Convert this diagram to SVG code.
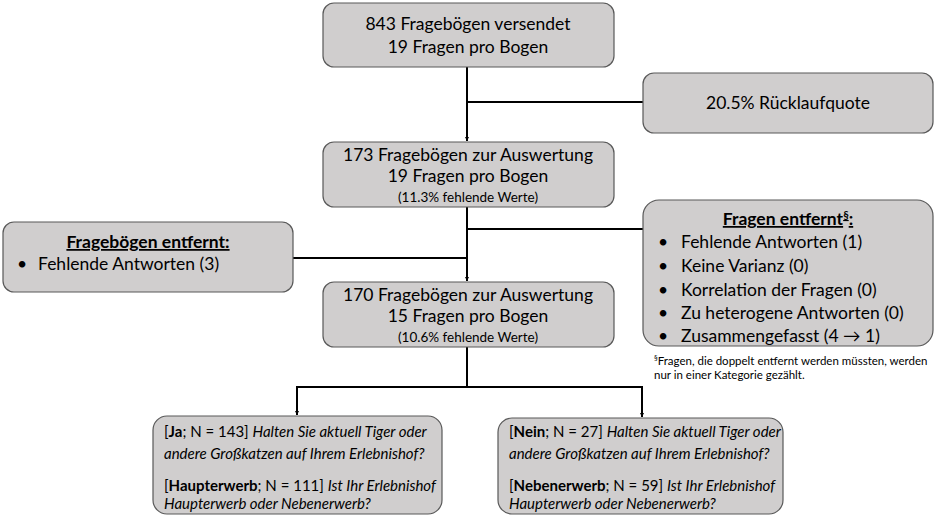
<svg xmlns="http://www.w3.org/2000/svg" width="939" height="520" viewBox="0 0 939 520">
<defs>
<style>
.box{fill:#d0cece;stroke:#595959;stroke-width:1.2}
text{font-family:Lato,"Open Sans","Liberation Sans",sans-serif;fill:#000}
.m{font-size:17.5px;text-anchor:middle}
.s{font-size:13.5px;text-anchor:middle}
.l{font-size:17.5px}
.b{font-size:15px}
.f{font-size:11.5px}
.c{fill:none;stroke:#000;stroke-width:2}
</style>
<marker id="ah" viewBox="0 0 10 10" refX="10" refY="5" markerWidth="4" markerHeight="4" orient="auto" markerUnits="userSpaceOnUse">
<path d="M0,0 L10,5 L0,10 z" fill="#000"/>
</marker>
</defs>
<g id="connectors">
<path class="c" d="M467,67 V141" marker-end="url(#ah)"/>
<path class="c" d="M467,102 H643"/>
<path class="c" d="M467,207 V281" marker-end="url(#ah)"/>
<path class="c" d="M293,258 H467"/>
<path class="c" d="M467,229 H643"/>
<path class="c" d="M467,347 V387"/>
<path class="c" d="M296,387 H643"/>
<path class="c" d="M297,386 V415" marker-end="url(#ah)"/>
<path class="c" d="M642,386 V417" marker-end="url(#ah)"/>
</g>
<g id="n1">
<rect class="box" x="323" y="3" width="291" height="64" rx="11"/>
<text class="m" x="468" y="30">843 Fragebögen versendet</text>
<text class="m" x="468" y="53">19 Fragen pro Bogen</text>
</g>
<g id="n2">
<rect class="box" x="643" y="73" width="290" height="60" rx="11"/>
<text class="m" x="788" y="109">20.5% Rücklaufquote</text>
</g>
<g id="n3">
<rect class="box" x="323" y="142" width="291" height="65" rx="11"/>
<text class="m" x="468" y="161">173 Fragebögen zur Auswertung</text>
<text class="m" x="468" y="182">19 Fragen pro Bogen</text>
<text class="s" x="468" y="202">(11.3% fehlende Werte)</text>
</g>
<g id="n4">
<rect class="box" x="3" y="222" width="290" height="70" rx="11"/>
<text class="m" x="148" y="248" font-weight="bold" text-decoration="underline">Fragebögen entfernt:</text>
<text class="l" x="17" y="270">•</text>
<text class="l" x="38" y="270">Fehlende Antworten (3)</text>
</g>
<g id="n5">
<rect class="box" x="643" y="200" width="290" height="146" rx="16"/>
<text class="m" x="788" y="225" font-weight="bold" text-decoration="underline">Fragen entfernt<tspan font-size="11px" dy="-6">§</tspan><tspan dy="6">:</tspan></text>
<text class="l" x="658" y="248">•</text>
<text class="l" x="681" y="248">Fehlende Antworten (1)</text>
<text class="l" x="658" y="272">•</text>
<text class="l" x="681" y="272">Keine Varianz (0)</text>
<text class="l" x="658" y="296">•</text>
<text class="l" x="681" y="296">Korrelation der Fragen (0)</text>
<text class="l" x="658" y="319">•</text>
<text class="l" x="681" y="319">Zu heterogene Antworten (0)</text>
<text class="l" x="658" y="342">•</text>
<text class="l" x="681" y="342">Zusammengefasst (4 → 1)</text>
</g>
<g id="footnote">
<text class="f" x="654" y="365"><tspan font-size="7.5px" dy="-4">§</tspan><tspan dy="4">Fragen, die doppelt entfernt werden müssten, werden</tspan></text>
<text class="f" x="654" y="379">nur in einer Kategorie gezählt.</text>
</g>
<g id="n6">
<rect class="box" x="323" y="282" width="291" height="65" rx="11"/>
<text class="m" x="468" y="301">170 Fragebögen zur Auswertung</text>
<text class="m" x="468" y="322">15 Fragen pro Bogen</text>
<text class="s" x="468" y="342">(10.6% fehlende Werte)</text>
</g>
<g id="n7">
<rect class="box" x="153" y="416" width="289" height="98" rx="14"/>
<text class="b" x="164" y="437">[<tspan font-weight="bold">Ja</tspan>; N = 143] <tspan font-style="italic">Halten Sie aktuell Tiger oder</tspan></text>
<text class="b" x="164" y="459" font-style="italic">andere Großkatzen auf Ihrem Erlebnishof?</text>
<text class="b" x="164" y="491">[<tspan font-weight="bold">Haupterwerb</tspan>; N = 111] <tspan font-style="italic">Ist Ihr Erlebnishof</tspan></text>
<text class="b" x="164" y="509" font-style="italic">Haupterwerb oder Nebenerwerb?</text>
</g>
<g id="n8">
<rect class="box" x="498" y="418" width="285" height="96" rx="14"/>
<text class="b" x="509" y="437">[<tspan font-weight="bold">Nein</tspan>; N = 27] <tspan font-style="italic">Halten Sie aktuell Tiger oder</tspan></text>
<text class="b" x="509" y="459" font-style="italic">andere Großkatzen auf Ihrem Erlebnishof?</text>
<text class="b" x="509" y="491">[<tspan font-weight="bold">Nebenerwerb</tspan>; N = 59] <tspan font-style="italic">Ist Ihr Erlebnishof</tspan></text>
<text class="b" x="509" y="509" font-style="italic">Haupterwerb oder Nebenerwerb?</text>
</g>
</svg>
